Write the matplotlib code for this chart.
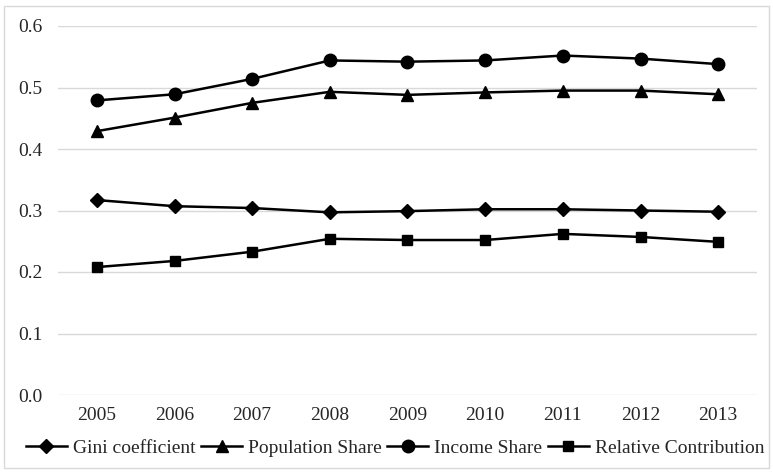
import matplotlib as mpl
mpl.use('Agg')
import matplotlib.pyplot as plt
from matplotlib.patches import Rectangle

years = ['2005', '2006', '2007', '2008', '2009', '2010', '2011', '2012', '2013']
gini = [0.317, 0.307, 0.304, 0.297, 0.299, 0.302, 0.302, 0.300, 0.298]
pop_share = [0.429, 0.451, 0.475, 0.493, 0.488, 0.492, 0.495, 0.495, 0.489]
income_share = [0.479, 0.489, 0.514, 0.544, 0.542, 0.544, 0.552, 0.547, 0.538]
rel_contrib = [0.208, 0.218, 0.233, 0.254, 0.252, 0.252, 0.262, 0.257, 0.249]
y_ticks = [0.0, 0.1, 0.2, 0.3, 0.4, 0.5, 0.6]

plt.rcParams['font.family'] = ['Liberation Serif', 'DejaVu Serif']

W, H = 773, 474
fig = plt.figure(figsize=(W / 100, H / 100), dpi=100)
# axes placed in pixel coords: x 58..757, y 26..395 (from top)
ax = fig.add_axes([58 / W, 1 - 395 / H, (757 - 58) / W, (395 - 26) / H])

x = list(range(len(years)))
lw = 1.8
ax.plot(x, gini, color='black', lw=lw, marker='D', ms=7, label='Gini coefficient', zorder=3)
ax.plot(x, pop_share, color='black', lw=lw, marker='^', ms=9, label='Population Share', zorder=3)
ax.plot(x, income_share, color='black', lw=lw, marker='o', ms=9, label='Income Share', zorder=3)
ax.plot(x, rel_contrib, color='black', lw=lw, marker='s', ms=7.5, label='Relative Contribution', zorder=3)

ax.set_xlim(-0.5, len(years) - 0.5)
ax.set_ylim(0, 0.6)
ax.set_yticks(y_ticks)
ax.set_yticklabels(['%.1f' % v for v in y_ticks])
ax.set_xticks(x)
ax.set_xticklabels(years)
ax.yaxis.grid(True, color='#d9d9d9', lw=1)
ax.set_axisbelow(True)
for s in ax.spines.values():
    s.set_visible(False)
ax.tick_params(length=0, labelsize=14, colors='#262626')
ax.tick_params(axis='x', pad=8.5)
ax.tick_params(axis='y', pad=11)

leg = fig.legend(loc='center', bbox_to_anchor=(395 / W, 1 - 448 / H), ncol=4,
                 frameon=False, fontsize=14, handlelength=2.1, handletextpad=0.3,
                 columnspacing=0.3, borderaxespad=0)
for t in leg.get_texts():
    t.set_color('#262626')

# outer chart border
fig.patches.append(Rectangle((4 / W, 1 - 468 / H), (769 - 4) / W, (468 - 6) / H,
                             transform=fig.transFigure, fill=False,
                             edgecolor='#d9d9d9', lw=1))

fig.savefig('out.png', dpi=100)
